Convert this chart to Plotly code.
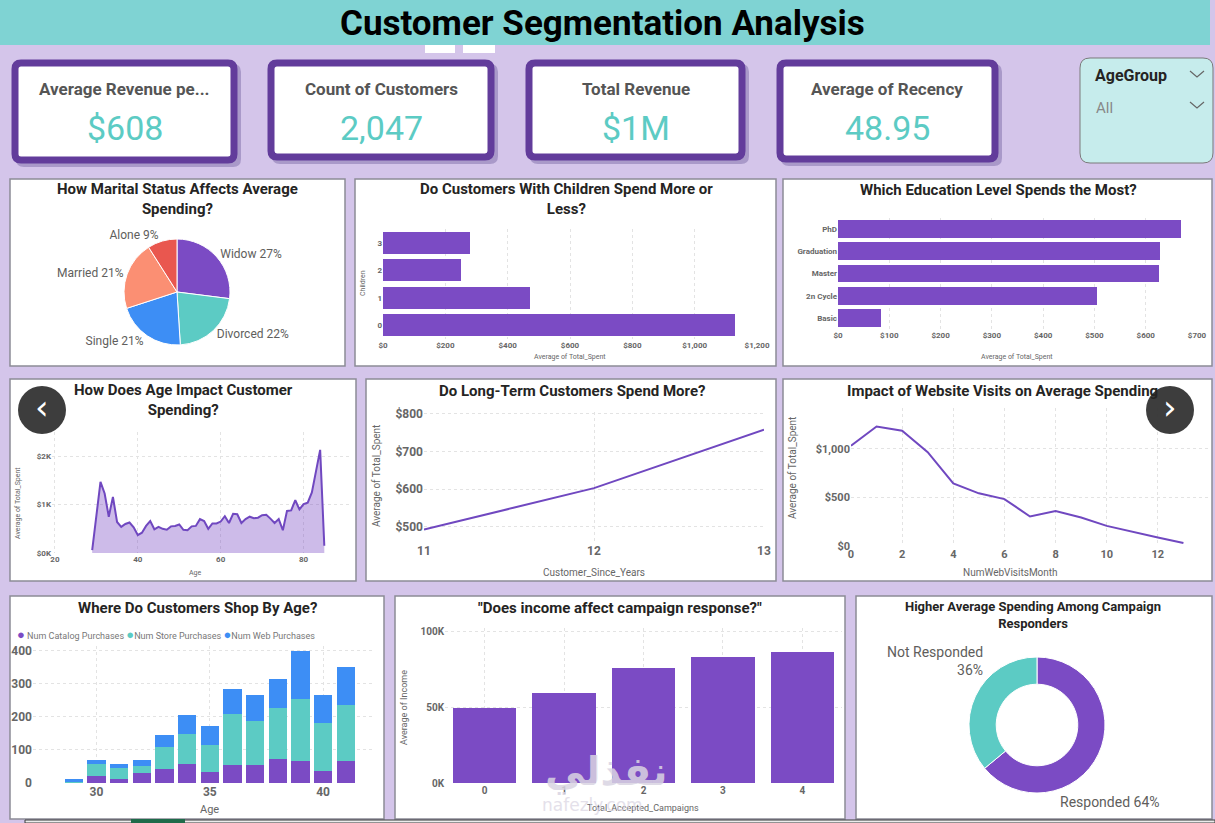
import plotly.graph_objects as go

W, H = 1215, 823

# ---- data ----
kpi_titles = ["Average Revenue pe...", "Count of Customers", "Total Revenue", "Average of Recency"]
kpi_values = ["$608", "2,047", "$1M", "48.95"]

marital_status = ["Widow", "Divorced", "Single", "Married", "Alone"]
marital_share = [27, 22, 21, 21, 9]

children = ["0", "1", "2", "3"]
children_spent = [1129, 472, 250, 279]

education = ["Basic", "2n Cycle", "Master", "Graduation", "PhD"]
education_spent = [84, 505, 626, 628, 669]

ages = list(range(29, 86))
age_spent = [60, 760, 1470, 1230, 750, 1160, 640, 540, 600, 630,
             530, 370, 420, 560, 660, 490, 540, 500, 480, 550,
             560, 590, 480, 470, 550, 560, 700, 660, 500, 610,
             610, 650, 760, 620, 810, 800, 620, 700, 750, 720,
             730, 780, 790, 710, 620, 700, 470, 870, 880, 1090,
             900, 1010, 1040, 1250, 1700, 2130, 150]

customer_years = [11, 12, 13]
years_spent = [493, 603, 758]

web_visits = list(range(0, 14))
web_spent = [1031, 1230, 1186, 966, 645, 542, 483, 304, 359, 294, 207, 145, 87, 31]

shop_ages = list(range(29, 42))
catalog_purchases = [1, 22, 13, 29, 42, 57, 34, 55, 55, 73, 66, 36, 67]
store_purchases = [5, 37, 31, 24, 66, 92, 80, 154, 133, 154, 189, 147, 169]
web_purchases = [6, 12, 13, 16, 37, 58, 60, 76, 78, 87, 145, 84, 116]

campaigns = ["0", "1", "2", "3", "4"]
campaign_income = [49200, 59200, 75700, 82800, 85900]

response = ["Responded", "Not Responded"]
response_share = [64, 36]

# ---- colours ----
PURPLE = "#7b4bc4"
TEAL = "#5ccbc4"
BLUE = "#3d8ef5"
SALMON = "#fb8f73"
RED = "#e9574f"
BG = "#d4c5ea"
TXT = "#252423"
GREY = "#666666"
FONT = "Roboto"


def P(x):
    return x / W


def Q(y):
    return 1 - y / H


def xdom(a, b):
    return [P(a), P(b)]


def ydom(top, bottom):
    return [Q(bottom), Q(top)]


def rounded(x0, y0, x1, y1, r):
    def pt(x, y):
        return f"{P(x):.5f},{Q(y):.5f}"
    return (f"M {pt(x0 + r, y0)} L {pt(x1 - r, y0)} Q {pt(x1, y0)} {pt(x1, y0 + r)} "
            f"L {pt(x1, y1 - r)} Q {pt(x1, y1)} {pt(x1 - r, y1)} L {pt(x0 + r, y1)} "
            f"Q {pt(x0, y1)} {pt(x0, y1 - r)} L {pt(x0, y0 + r)} Q {pt(x0, y0)} {pt(x0 + r, y0)} Z")


shapes = []
annotations = []


def rect(x0, y0, x1, y1, fill, line="rgba(0,0,0,0)", width=0):
    shapes.append(dict(type="rect", xref="paper", yref="paper", layer="below",
                       x0=P(x0), x1=P(x1), y0=Q(y1), y1=Q(y0),
                       fillcolor=fill, line=dict(color=line, width=width)))


def text(x, y, s, size=12, color=TXT, bold=False, xanchor="center", angle=0, family=FONT, opacity=1,
         align="center"):
    annotations.append(dict(x=P(x), y=Q(y), xref="paper", yref="paper", text=s,
                            showarrow=False, xanchor=xanchor, yanchor="middle",
                            textangle=angle, opacity=opacity, align=align,
                            font=dict(size=size, color=color, family=family,
                                      weight="bold" if bold else "normal")))


fig = go.Figure()

# ---- header ----
rect(0, 0, 1210, 45, "#7fd3d3")
rect(425, 45, 455, 53, "#ffffff")
rect(463, 45, 495, 53, "#ffffff")
text(602, 23, "Customer Segmentation Analysis", size=35, color="#000000", bold=True)

# ---- KPI cards ----
cards = [(12, 60, 237, 163), (268, 60, 494, 160), (526, 60, 745, 160), (777, 60, 998, 162)]
for (x0, y0, x1, y1), t, v in zip(cards, kpi_titles, kpi_values):
    shapes.append(dict(type="path", xref="paper", yref="paper", layer="below",
                       path=rounded(x0 + 4, y0 + 4, x1 + 4, y1 + 4, 8),
                       fillcolor="#a999c9", line=dict(width=0)))
    shapes.append(dict(type="path", xref="paper", yref="paper", layer="below",
                       path=rounded(x0 + 3, y0 + 3, x1 - 3, y1 - 3, 6),
                       fillcolor="#ffffff", line=dict(color="#623c9b", width=7)))
    cx = (x0 + x1) / 2
    text(cx, y0 + 29, t, size=17, color="#555555", bold=True)
    text(cx, y0 + 68, v, size=34, color=TEAL)

# ---- slicer ----
shapes.append(dict(type="path", xref="paper", yref="paper", layer="below",
                   path=rounded(1080, 58, 1213, 163, 10),
                   fillcolor="#c6ecec", line=dict(color="#7a7a7a", width=1)))
text(1093, 76, "AgeGroup", size=16, color=TXT, bold=True, xanchor="left")
text(1094, 108, "All", size=15, color="#888888", xanchor="left")
for cy in (74, 105):
    shapes.append(dict(type="path", xref="paper", yref="paper",
                       path=f"M {P(1190):.5f},{Q(cy - 3):.5f} L {P(1197):.5f},{Q(cy + 3):.5f} L {P(1204):.5f},{Q(cy - 3):.5f}",
                       line=dict(color="#666666", width=1.2)))

# ---- chart panels ----
panels = [(10, 179, 345, 366), (355, 179, 776, 366), (783, 179, 1212, 366),
          (10, 379, 356, 581), (366, 379, 776, 581), (783, 379, 1212, 581),
          (10, 596, 384, 819), (395, 596, 845, 819), (856, 596, 1212, 819)]
for x0, y0, x1, y1 in panels:
    rect(x0, y0, x1, y1, "#ffffff", "#8c8c96", 1.5)

# strip of the browser page under the dashboard
rect(25, 820, 1215, 823, "#ececec", "#3a3a3a", 1)
rect(131, 819, 185, 823, "#1f6b4a")

TS = 15
text(177, 199, "How Marital Status Affects Average<br>Spending?", size=TS, bold=True)
text(566, 199, "Do Customers With Children Spend More or<br>Less?", size=TS, bold=True)
text(998, 190, "Which Education Level Spends the Most?", size=TS, bold=True)
text(183, 400, "How Does Age Impact Customer<br>Spending?", size=TS, bold=True)
text(572, 391, "Do Long-Term Customers Spend More?", size=TS, bold=True)
text(1002, 391, "Impact of Website Visits on Average Spending", size=TS, bold=True)
text(197, 608, "Where Do Customers Shop By Age?", size=TS, bold=True)
text(620, 608, "\"Does income affect campaign response?\"", size=TS, bold=True)
text(1033, 615, "Higher Average Spending Among Campaign<br>Responders", size=13, bold=True)

# ---- pie: marital status ----
fig.add_trace(go.Pie(
    labels=marital_status, values=marital_share, sort=False, direction="clockwise",
    rotation=0, marker=dict(colors=[PURPLE, TEAL, BLUE, SALMON, RED], line=dict(color="#ffffff", width=1)),
    textposition="outside", texttemplate="%{label} %{percent:.0%}",
    outsidetextfont=dict(size=12, color="#605e5c", family=FONT),
    domain=dict(x=xdom(124, 230), y=ydom(239, 345)), showlegend=False, hoverinfo="label+percent"))

# ---- donut: campaign response ----
fig.add_trace(go.Pie(
    labels=response, values=response_share, sort=False, direction="clockwise",
    rotation=0, hole=0.6, marker=dict(colors=[PURPLE, TEAL], line=dict(color="#ffffff", width=1)),
    textinfo="none", domain=dict(x=xdom(969, 1105), y=ydom(657, 793)), showlegend=False))
total_resp = sum(response_share)
text(985, 661, f"{response[1]}<br>{response_share[1] / total_resp:.0%}", size=14, color="#605e5c",
     xanchor="right", align="right")
text(1058, 802, f"{response[0]} {response_share[0] / total_resp:.0%}", size=14, color="#605e5c",
     xanchor="left")

# ---- bars: children ----
fig.add_trace(go.Bar(x=children_spent, y=children, orientation="h", marker_color=PURPLE,
                     xaxis="x", yaxis="y", showlegend=False))
# ---- bars: education ----
fig.add_trace(go.Bar(x=education_spent, y=education, orientation="h", marker_color=PURPLE,
                     xaxis="x2", yaxis="y2", showlegend=False))
# ---- area: age ----
fig.add_trace(go.Scatter(x=ages, y=age_spent, mode="lines", fill="tozeroy",
                         line=dict(color="#7048c0", width=2), fillcolor="rgba(123,75,196,0.38)",
                         xaxis="x3", yaxis="y3", showlegend=False))
# ---- line: customer years ----
fig.add_trace(go.Scatter(x=customer_years, y=years_spent, mode="lines",
                         line=dict(color="#7048c0", width=2), xaxis="x4", yaxis="y4", showlegend=False))
# ---- line: web visits ----
fig.add_trace(go.Scatter(x=web_visits, y=web_spent, mode="lines",
                         line=dict(color="#7048c0", width=2), xaxis="x5", yaxis="y5", showlegend=False))
# ---- stacked: shopping channel by age ----
for name, vals, col in [("Num Catalog Purchases", catalog_purchases, PURPLE),
                        ("Num Store Purchases", store_purchases, TEAL),
                        ("Num Web Purchases", web_purchases, BLUE)]:
    fig.add_trace(go.Bar(x=shop_ages, y=vals, name=name, marker_color=col,
                         xaxis="x6", yaxis="y6", showlegend=False))
# ---- bars: income by campaigns ----
fig.add_trace(go.Bar(x=campaigns, y=campaign_income, marker_color=PURPLE,
                     xaxis="x7", yaxis="y7", showlegend=False))

# legend of the stacked chart
dot = "<span style='color:{};font-size:13px'>●</span>"
text(15, 634, f"{dot.format(PURPLE)} Num Catalog Purchases "
              f"{dot.format(TEAL)}Num Store Purchases "
              f"{dot.format(BLUE)}Num Web Purchases",
     size=9, color="#777777", xanchor="left")

# axis titles
text(363, 283, "Children", size=7, color=GREY, angle=-90)
text(570, 357, "Average of Total_Spent", size=7, color=GREY)
text(1017, 357, "Average of Total_Spent", size=7, color=GREY)
text(18, 503, "Average of Total_Spent", size=7, color=GREY, angle=-90)
text(195, 573, "Age", size=7, color=GREY)
text(376, 476, "Average of Total_Spent", size=10, color=GREY, angle=-90)
text(594, 572, "Customer_Since_Years", size=10, color=GREY)
text(793, 468, "Average of Total_Spent", size=10, color=GREY, angle=-90)
text(1010, 572, "NumWebVisitsMonth", size=10, color=GREY)
text(209, 809, "Age", size=11, color=GREY)
text(404, 707, "Average of Income", size=9, color=GREY, angle=-90)
text(643, 808, "Total_Accepted_Campaigns", size=9, color=GREY)

# watermark of the site the screenshot came from
text(606, 771, "نفذلي", size=40, color="#d9d4e2", bold=True, family="DejaVu Sans", opacity=0.85)
text(592, 805, "nafezly.com", size=17, color="#d9d4e2", family="DejaVu Sans", opacity=0.7)

# carousel buttons
for cx, ch in [(42, "‹"), (1170, "›")]:
    shapes.append(dict(type="circle", xref="paper", yref="paper",
                       x0=P(cx - 24), x1=P(cx + 24), y0=Q(434), y1=Q(386),
                       fillcolor="#333333", line=dict(width=0), opacity=0.95))
    text(cx, 407, ch, size=34, color="#ffffff", family="DejaVu Sans")


def ax(**kw):
    base = dict(showline=False, zeroline=False, ticks="", showgrid=True,
                gridcolor="#e3e3e3", griddash="dot", gridwidth=1,
                tickfont=dict(size=8, color=GREY, family=FONT, weight="bold"),
                fixedrange=True)
    for k, v in kw.items():
        if k == "tickfont":
            base["tickfont"] = dict(base["tickfont"], **v)
        else:
            base[k] = v
    return base


fig.update_layout(
    width=W, height=H, margin=dict(l=0, r=0, t=0, b=0),
    paper_bgcolor=BG, plot_bgcolor="rgba(0,0,0,0)",
    template="none", font=dict(family=FONT, color=TXT),
    barmode="stack", bargap=0.2,
    shapes=shapes, annotations=annotations,
    xaxis=ax(domain=xdom(383, 757), range=[0, 1200], dtick=200, tickprefix="$", tickformat=",", anchor="y"),
    yaxis=ax(domain=ydom(229, 339), type="category", showgrid=False, anchor="x"),
    xaxis2=ax(domain=xdom(838, 1197), range=[0, 700], dtick=100, tickprefix="$", anchor="y2"),
    yaxis2=ax(domain=ydom(218, 329), type="category", showgrid=False, anchor="x2",
              categoryorder="array", categoryarray=education),
    xaxis3=ax(domain=xdom(52, 350), range=[19.3, 91.2], tickvals=[20, 40, 60, 80], anchor="y3"),
    yaxis3=ax(domain=ydom(432, 553), range=[0, 2500], tickvals=[0, 1000, 2000],
              ticktext=["$0K", "$1K", "$2K"], anchor="x3"),
    xaxis4=ax(domain=xdom(424, 764), range=[11, 13], tickvals=customer_years, anchor="y4",
              tickfont=dict(size=12)),
    yaxis4=ax(domain=ydom(412, 542), range=[460, 805], dtick=100, tickprefix="$", anchor="x4",
              tickfont=dict(size=12)),
    xaxis5=ax(domain=xdom(851, 1209), range=[0, 14], dtick=2, anchor="y5", tickfont=dict(size=11)),
    yaxis5=ax(domain=ydom(408, 546), range=[0, 1420], tickvals=[0, 500, 1000],
              ticktext=["$0", "$500", "$1,000"], anchor="x5", tickfont=dict(size=11)),
    xaxis6=ax(domain=xdom(33, 373), range=[27.2, 42.2], tickvals=[30, 35, 40], anchor="y6",
              tickfont=dict(size=12)),
    yaxis6=ax(domain=ydom(646, 783), range=[0, 415], dtick=100, anchor="x6", tickfont=dict(size=12)),
    xaxis7=ax(domain=xdom(445, 842), type="category", anchor="y7", tickfont=dict(size=10)),
    yaxis7=ax(domain=ydom(628, 783), range=[0, 102000], tickvals=[0, 50000, 100000],
              ticktext=["0K", "50K", "100K"], anchor="x7", tickfont=dict(size=10)),
)

# the page's default body margin would shift the dashboard by 8px
fig.write_html("out.html", config={"displayModeBar": False},
               post_script="document.body.style.margin='0';document.body.style.overflow='hidden';")
